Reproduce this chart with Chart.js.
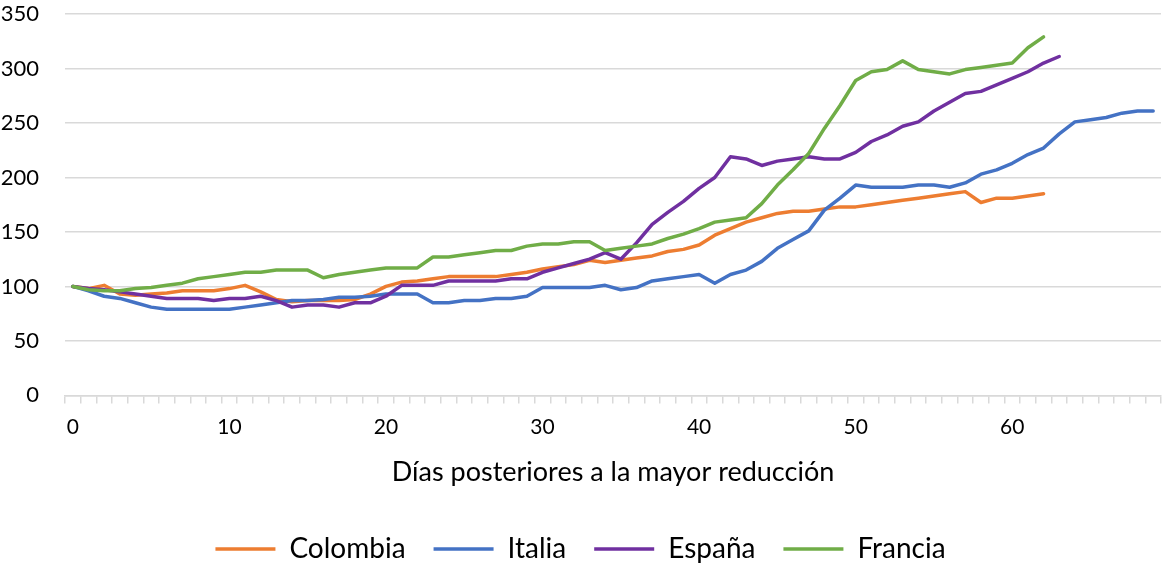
<!DOCTYPE html>
<html>
<head>
<meta charset="utf-8">
<script src="https://cdn.jsdelivr.net/npm/chart.js@4"></script>
<style>
  html, body { margin: 0; padding: 0; background: #ffffff; }
  #wrap { width: 1170px; height: 566px; position: relative; }
</style>
</head>
<body>
<div id="wrap"><canvas id="chart"></canvas></div>
<script>
// Days after the largest reduction (category axis)
const days = [0, 1, 2, 3, 4, 5, 6, 7, 8, 9, 10, 11, 12, 13, 14, 15, 16, 17, 18, 19,
  20, 21, 22, 23, 24, 25, 26, 27, 28, 29, 30, 31, 32, 33, 34, 35, 36, 37, 38, 39,
  40, 41, 42, 43, 44, 45, 46, 47, 48, 49, 50, 51, 52, 53, 54, 55, 56, 57, 58, 59,
  60, 61, 62, 63, 64, 65, 66, 67, 68, 69];

const colombia = [100, 98, 101, 93, 92, 93, 94, 96, 96, 96, 98, 101, 95, 88, 86, 87, 87, 87, 88, 93,
  100, 104, 105, 107, 109, 109, 109, 109, 111, 113, 116, 118, 120, 124, 122, 124, 126, 128, 132, 134,
  138, 147, 153, 159, 163, 167, 169, 169, 171, 173, 173, 175, 177, 179, 181, 183, 185, 187, 177, 181,
  181, 183, 185];

const italia = [100, 96, 91, 89, 85, 81, 79, 79, 79, 79, 79, 81, 83, 85, 87, 87, 88, 90, 90, 91,
  93, 93, 93, 85, 85, 87, 87, 89, 89, 91, 99, 99, 99, 99, 101, 97, 99, 105, 107, 109,
  111, 103, 111, 115, 123, 135, 143, 151, 170, 181, 193, 191, 191, 191, 193, 193, 191, 195, 203, 207,
  213, 221, 227, 240, 251, 253, 255, 259, 261, 261];

const espana = [100, 98, 97, 95, 93, 91, 89, 89, 89, 87, 89, 89, 91, 87, 81, 83, 83, 81, 85, 85,
  91, 101, 101, 101, 105, 105, 105, 105, 107, 107, 113, 117, 121, 125, 131, 125, 140, 157, 168, 178,
  190, 200, 219, 217, 211, 215, 217, 219, 217, 217, 223, 233, 239, 247, 251, 261, 269, 277, 279, 285,
  291, 297, 305, 311];

const francia = [100, 97, 96, 96, 98, 99, 101, 103, 107, 109, 111, 113, 113, 115, 115, 115, 108, 111, 113, 115,
  117, 117, 117, 127, 127, 129, 131, 133, 133, 137, 139, 139, 141, 141, 133, 135, 137, 139, 144, 148,
  153, 159, 161, 163, 176, 193, 207, 222, 245, 266, 289, 297, 299, 307, 299, 297, 295, 299, 301, 303,
  305, 319, 329];

const seriesNames = ['Colombia', 'Italia', 'España', 'Francia'];
const seriesColors = ['#ED7D31', '#4472C4', '#7030A0', '#70AD47'];
const seriesValues = [colombia, italia, espana, francia];

const FONT = "Lato, 'Open Sans', sans-serif";

function makeDataset(i) {
  return {
    label: seriesNames[i],
    data: seriesValues[i],
    borderColor: seriesColors[i],
    backgroundColor: seriesColors[i],
    borderWidth: 3.5,
    borderJoinStyle: 'round',
    borderCapStyle: 'round',
    pointRadius: 0,
    pointHoverRadius: 0,
    tension: 0,
    fill: false,
    // later series drawn on top, like the original
    order: seriesNames.length - i
  };
}

const ctx = document.getElementById('chart').getContext('2d');
window.trendChart = new Chart(ctx, {
  type: 'line',
  data: {
    labels: days,
    datasets: seriesNames.map((name, i) => makeDataset(i))
  },
  options: {
    responsive: true,
    maintainAspectRatio: false,
    animation: false,
    layout: {
      padding: { top: 14, right: 9, bottom: -7, left: 0 }
    },
    scales: {
      x: {
        type: 'category',
        offset: true,
        grid: {
          offset: true,
          drawOnChartArea: false,
          drawTicks: true,
          tickLength: 8,
          color: '#d9d9d9',
          lineWidth: 1.5
        },
        border: { display: true, color: '#d9d9d9', width: 1.5 },
        ticks: {
          autoSkip: false,
          maxRotation: 0,
          padding: 11,
          color: '#000000',
          font: { size: 21, family: FONT },
          callback: function (value, index) {
            return index % 10 === 0 ? String(days[index]) : '';
          }
        },
        title: {
          display: true,
          text: 'Días posteriores a la mayor reducción',
          color: '#000000',
          font: { size: 27, family: FONT },
          padding: { top: 5, bottom: 19 }
        }
      },
      y: {
        min: 0,
        max: 350,
        grid: {
          color: '#d9d9d9',
          lineWidth: 1.5,
          drawTicks: true,
          tickLength: 26,
          tickColor: 'rgba(0,0,0,0)'
        },
        border: { display: false },
        ticks: {
          stepSize: 50,
          padding: 0,
          color: '#000000',
          font: { size: 22, family: FONT }
        },
        afterFit: function (scale) {
          scale.width = 65;
        }
      }
    },
    plugins: {
      legend: {
        position: 'bottom',
        labels: {
          usePointStyle: true,
          pointStyle: 'line',
          pointStyleWidth: 60,
          boxHeight: 4,
          padding: 28,
          color: '#000000',
          font: { size: 28, family: FONT },
          sort: function (a, b) {
            return a.datasetIndex - b.datasetIndex;
          }
        }
      },
      title: { display: false },
      tooltip: { enabled: false }
    }
  }
});
</script>
</body>
</html>
